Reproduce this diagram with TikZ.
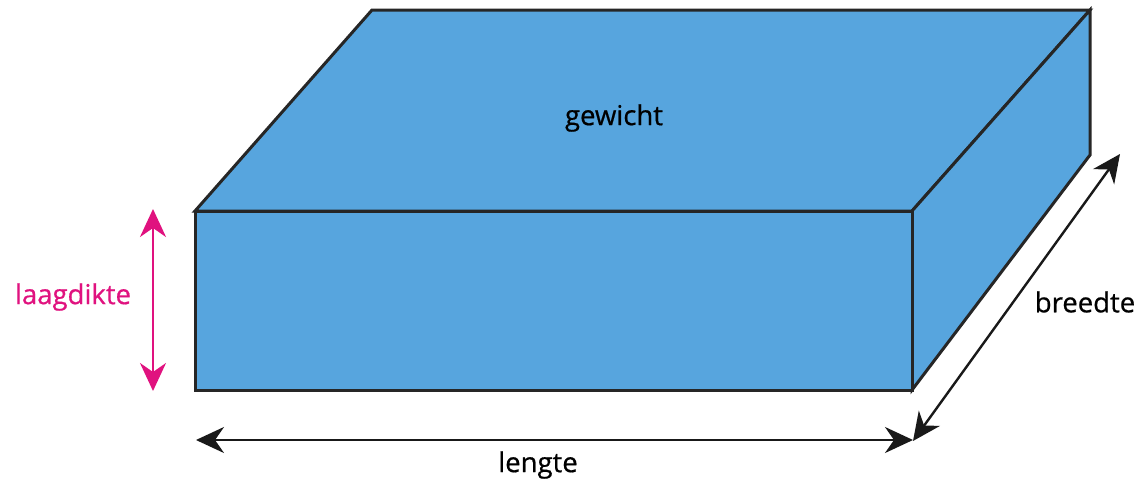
\documentclass[tikz,border=0pt]{standalone}
\usepackage{fontspec}
\setmainfont{Open Sans}
\usetikzlibrary{arrows.meta}
\definecolor{slab}{HTML}{57A5DE}
\definecolor{dimpink}{HTML}{E0127F}
\begin{document}
\begin{tikzpicture}[x=1pt,y=-1pt,
  face/.style={fill=slab,draw=black!85,line width=3pt,line join=miter},
  dimtip/.tip={Stealth[length=28pt,width=26pt,inset=9pt]},
  dimline/.style={line width=2.4pt,dimtip-dimtip},
  lbl/.style={font=\fontsize{27.5}{32}\selectfont\addfontfeature{FakeBold=0.6},inner sep=0pt}]
\useasboundingbox (0,0) rectangle (1136,480);
% corners of the slab
\coordinate (ftl) at (195,211);
\coordinate (ftr) at (912,211);
\coordinate (fbl) at (195,390);
\coordinate (fbr) at (912,390);
\coordinate (btl) at (372,10);
\coordinate (btr) at (1090,10);
\coordinate (bbr) at (1090,155);
% faces
\draw[face] (ftl) -- (btl) -- (btr) -- (ftr) -- cycle;
\draw[face] (ftr) -- (btr) -- (bbr) -- (fbr) -- cycle;
\draw[face] (ftl) -- (ftr) -- (fbr) -- (fbl) -- cycle;
% dimension ends
\coordinate (hT) at (153,209);
\coordinate (hB) at (153,391);
\coordinate (lL) at (196,440);
\coordinate (lR) at (913,440);
\coordinate (wF) at (913,441);
\coordinate (wB) at (1120,154);
\draw[dimline,draw=dimpink,fill=dimpink] (hT) -- (hB);
\draw[dimline,draw=black!90,fill=black!90] (lL) -- (lR);
\draw[dimline,draw=black!90,fill=black!90] (wF) -- (wB);
% labels
\node[lbl] (gew) at (614,118) {gewicht};
\node[lbl,text=dimpink] (laag) at (73,297) {laagdikte};
\node[lbl] (len) at (538,465) {lengte};
\node[lbl] (bre) at (1085,302) {breedte};
\end{tikzpicture}
\end{document}
